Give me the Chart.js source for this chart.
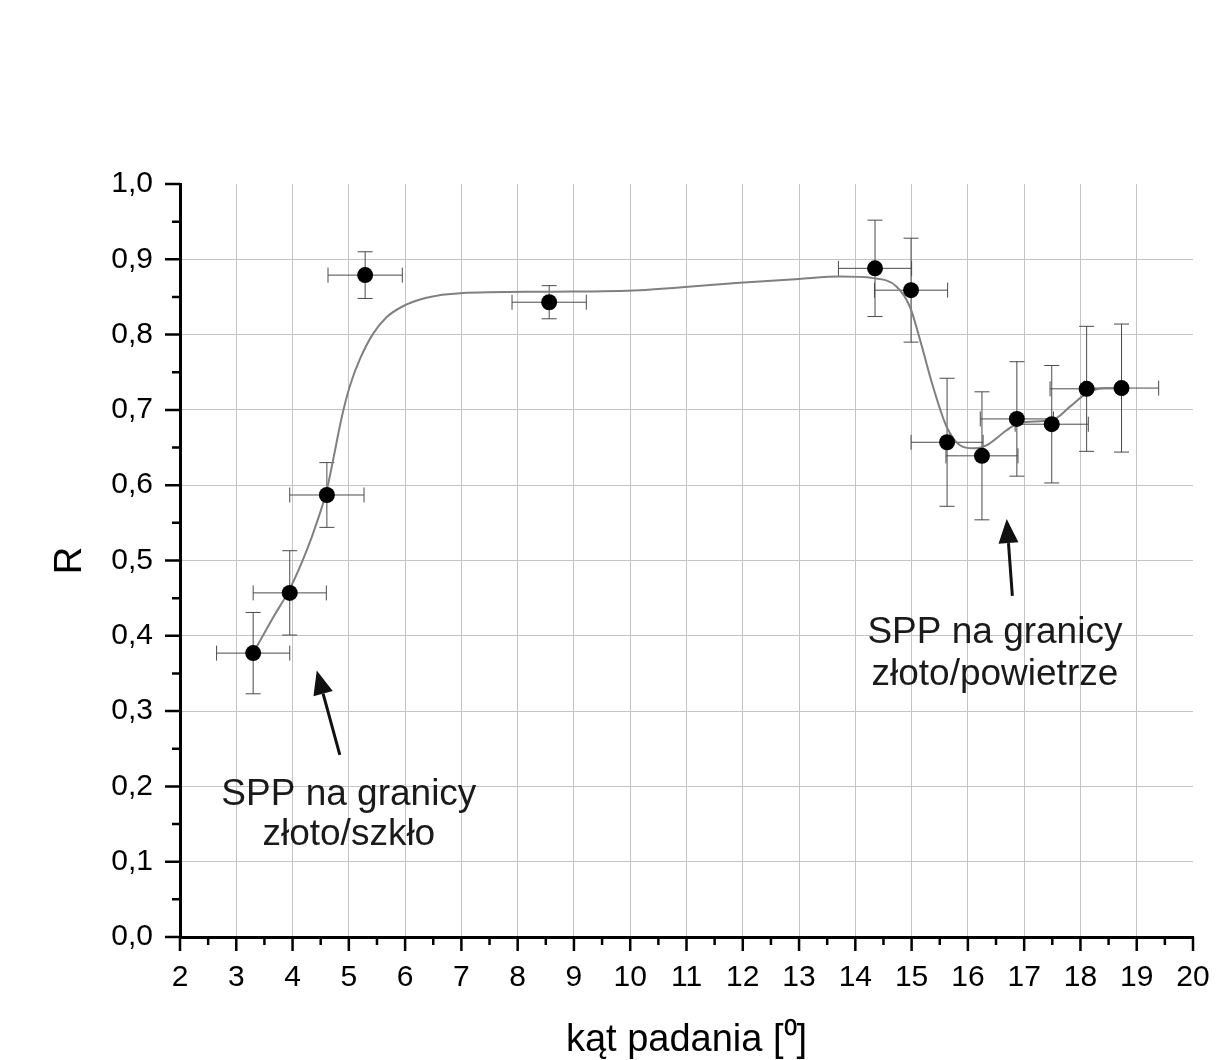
<!DOCTYPE html>
<html>
<head>
<meta charset="utf-8">
<script src="https://cdn.jsdelivr.net/npm/chart.js@4.4.1/dist/chart.umd.min.js"></script>
<style>
html,body{margin:0;padding:0;background:#fff;}
#wrap{width:1224px;height:1060px;}
</style>
</head>
<body>
<div id="wrap"><canvas id="c" width="1224" height="1060"></canvas></div>
<script>
// ---- measured data ----
const angles      = [3.30, 3.95, 4.61, 5.29, 8.56, 14.35, 14.99, 15.63, 16.25, 16.87, 17.49, 18.11, 18.73];
const reflectance = [0.377, 0.457, 0.587, 0.879, 0.843, 0.888, 0.859, 0.657, 0.639, 0.688, 0.681, 0.728, 0.729];
const angleErr    = [0.65, 0.65, 0.66, 0.66, 0.66, 0.65, 0.65, 0.64, 0.64, 0.65, 0.65, 0.65, 0.66];
const rErr        = [0.054, 0.056, 0.043, 0.031, 0.022, 0.064, 0.069, 0.085, 0.085, 0.076, 0.078, 0.083, 0.085];

// ---- fitted curve ----
const fitAngles = [3.30, 3.66, 3.95, 4.25, 4.42, 4.61, 4.73, 4.87, 5.02, 5.20, 5.43, 5.67, 5.97, 6.38, 6.98, 8.56, 10.17, 11.95, 13.00, 13.73, 14.32, 14.73, 14.97, 15.15, 15.38, 15.62, 15.86, 16.10, 16.33, 16.69, 16.92, 17.51, 17.81, 18.11, 18.46, 18.73];
const fitR      = [0.377, 0.425, 0.462, 0.513, 0.548, 0.594, 0.637, 0.689, 0.732, 0.768, 0.801, 0.823, 0.838, 0.849, 0.855, 0.857, 0.859, 0.869, 0.874, 0.877, 0.875, 0.864, 0.837, 0.793, 0.731, 0.678, 0.653, 0.649, 0.653, 0.673, 0.683, 0.687, 0.704, 0.722, 0.729, 0.729];

// ---- axes ----
const xMin = 2, xMax = 20, xStep = 1, xMinorStep = 0.5;
const yMin = 0, yMax = 1, yStep = 0.1, yMinorStep = 0.05;
const xTitle = 'kąt padania [⁰]';
const yTitle = 'R';

// ---- annotations (data coordinates) ----
const notes = [
  {lines: ['SPP na granicy', 'złoto/szkło'], x: 5.00, y: [0.175, 0.122]},
  {lines: ['SPP na granicy', 'złoto/powietrze'], x: 16.48, y: [0.390, 0.335]}
];
const arrows = [
  {from: [4.84, 0.242], to: [4.43, 0.354]},
  {from: [16.79, 0.453], to: [16.69, 0.555]}
];

const FONT = '"Liberation Sans", Arial, Helvetica, sans-serif';

const errorBars = {
  id: 'errorBars',
  beforeDatasetsDraw(chart) {
    const {ctx, scales: {x, y}} = chart;
    ctx.save();
    ctx.strokeStyle = '#4a4a4a';
    ctx.lineWidth = 1;
    const cap = 7.5;
    angles.forEach((a, i) => {
      const px = x.getPixelForValue(a), py = y.getPixelForValue(reflectance[i]);
      const x0 = x.getPixelForValue(a - angleErr[i]), x1 = x.getPixelForValue(a + angleErr[i]);
      const y0 = y.getPixelForValue(reflectance[i] - rErr[i]), y1 = y.getPixelForValue(reflectance[i] + rErr[i]);
      ctx.beginPath();
      ctx.moveTo(x0, py); ctx.lineTo(x1, py);
      ctx.moveTo(x0, py - cap); ctx.lineTo(x0, py + cap);
      ctx.moveTo(x1, py - cap); ctx.lineTo(x1, py + cap);
      ctx.moveTo(px, y0); ctx.lineTo(px, y1);
      ctx.moveTo(px - cap, y0); ctx.lineTo(px + cap, y0);
      ctx.moveTo(px - cap, y1); ctx.lineTo(px + cap, y1);
      ctx.stroke();
    });
    ctx.restore();
  }
};

const axisTicks = {
  id: 'axisTicks',
  afterDraw(chart) {
    const {ctx, scales: {x, y}, chartArea: a} = chart;
    ctx.save();
    ctx.strokeStyle = '#000';
    ctx.lineWidth = 2.5;
    ctx.beginPath();
    const nx = Math.round((xMax - xMin) / xMinorStep);
    for (let i = 0; i <= nx; i++) {
      const v = xMin + i * xMinorStep;
      const px = x.getPixelForValue(v);
      const len = (i % 2 === 0) ? 14 : 8;
      ctx.moveTo(px, a.bottom); ctx.lineTo(px, a.bottom + len);
    }
    const ny = Math.round((yMax - yMin) / yMinorStep);
    for (let i = 0; i <= ny; i++) {
      const v = yMin + i * yMinorStep;
      const py = y.getPixelForValue(v);
      const len = (i % 2 === 0) ? 15 : 8;
      ctx.moveTo(a.left - len, py); ctx.lineTo(a.left, py);
    }
    ctx.stroke();

    // annotations
    ctx.fillStyle = '#1a1a1a';
    ctx.font = '37px ' + FONT;
    ctx.textAlign = 'center';
    ctx.textBaseline = 'alphabetic';
    notes.forEach(n => {
      const px = x.getPixelForValue(n.x);
      n.lines.forEach((t, k) => ctx.fillText(t, px, y.getPixelForValue(n.y[k])));
    });
    // arrows
    ctx.strokeStyle = '#111';
    ctx.fillStyle = '#111';
    ctx.lineWidth = 3;
    arrows.forEach(ar => {
      const fx = x.getPixelForValue(ar.from[0]), fy = y.getPixelForValue(ar.from[1]);
      const tx = x.getPixelForValue(ar.to[0]), ty = y.getPixelForValue(ar.to[1]);
      const ang = Math.atan2(ty - fy, tx - fx);
      const hl = 24, hw = 10;
      const bx = tx - hl * Math.cos(ang), by = ty - hl * Math.sin(ang);
      ctx.beginPath();
      ctx.moveTo(fx, fy); ctx.lineTo(bx, by);
      ctx.stroke();
      ctx.beginPath();
      ctx.moveTo(tx, ty);
      ctx.lineTo(bx + hw * Math.sin(ang), by - hw * Math.cos(ang));
      ctx.lineTo(bx - hw * Math.sin(ang), by + hw * Math.cos(ang));
      ctx.closePath();
      ctx.fill();
    });
    ctx.restore();
  }
};

const isEdge = (v, lo, hi) => Math.abs(v - lo) < 1e-6 || Math.abs(v - hi) < 1e-6;

new Chart(document.getElementById('c'), {
  type: 'scatter',
  data: {
    datasets: [
      {
        label: 'fit',
        data: fitAngles.map((a, i) => ({x: a, y: fitR[i]})),
        showLine: true,
        borderColor: '#808080',
        borderWidth: 2,
        pointRadius: 0,
        cubicInterpolationMode: 'monotone',
        order: 2
      },
      {
        label: 'R',
        data: angles.map((a, i) => ({x: a, y: reflectance[i]})),
        showLine: false,
        pointRadius: 8,
        pointBackgroundColor: '#000',
        pointBorderColor: '#000',
        pointBorderWidth: 0,
        order: 1
      }
    ]
  },
  options: {
    responsive: false,
    animation: false,
    devicePixelRatio: 1,
    layout: {padding: {top: 184, right: 31, left: 0, bottom: 0}},
    plugins: {legend: {display: false}, tooltip: {enabled: false}},
    scales: {
      x: {
        type: 'linear', min: xMin, max: xMax,
        ticks: {stepSize: xStep, color: '#000', font: {family: FONT, size: 30}, padding: 23, maxRotation: 0, autoSkip: false},
        grid: {
          color: c => (c.tick && isEdge(c.tick.value, xMin, xMax)) ? 'rgba(0,0,0,0)' : '#c4c4c4',
          lineWidth: 1, drawTicks: false
        },
        border: {color: '#000', width: 3},
        title: {display: true, text: xTitle, color: '#000', font: {family: FONT, size: 38, lineHeight: 1.0}, padding: {top: 0, bottom: 0}},
        afterFit(s) { s.height = 123; s.paddingLeft = 0; s.paddingRight = 0; }
      },
      y: {
        type: 'linear', min: yMin, max: yMax,
        ticks: {stepSize: yStep, color: '#000', font: {family: FONT, size: 30}, padding: 27,
                callback: v => v.toFixed(1).replace('.', ',')},
        grid: {
          color: c => (c.tick && isEdge(c.tick.value, yMin, yMax)) ? 'rgba(0,0,0,0)' : '#c4c4c4',
          lineWidth: 1, drawTicks: false
        },
        border: {color: '#000', width: 3},
        title: {display: true, text: yTitle, color: '#000', font: {family: FONT, size: 38}, padding: {top: 48, bottom: 0}},
        afterFit(s) { s.width = 180; s.paddingTop = 0; s.paddingBottom = 0; }
      }
    }
  },
  plugins: [errorBars, axisTicks]
});
</script>
</body>
</html>
